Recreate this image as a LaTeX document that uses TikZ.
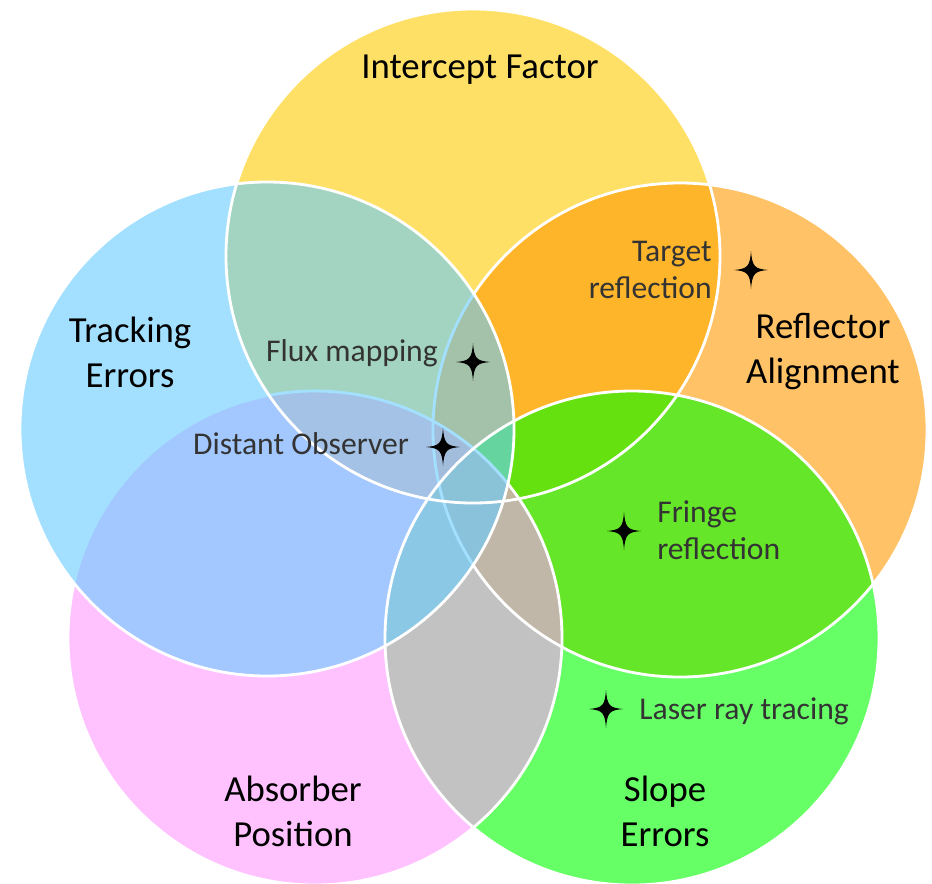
\documentclass[tikz,border=0pt]{standalone}
\usepackage{fontspec}
\setmainfont{Carlito}
\definecolor{cYel}{HTML}{FFCC00}
\definecolor{cOra}{HTML}{FF9900}
\definecolor{cGre}{HTML}{00FF00}
\definecolor{cPin}{HTML}{FF99FF}
\definecolor{cBlu}{HTML}{66CCFF}
\begin{document}
\begin{tikzpicture}[x=0.02cm,y=-0.02cm,
  setfill/.style={fill opacity=0.6},
  ring/.style={draw=white,line width=1.6pt},
  biglabel/.style={font=\fontsize{20.9}{25.6}\selectfont,text=black,align=center,inner sep=0pt},
  smalllabel/.style={font=\fontsize{18}{20.5}\selectfont,text=black!80,inner sep=0pt},
  fourstar/.pic={\fill[black] (0,-19) .. controls (1.2,-3.5) and (3.5,-1.2) .. (17,0) .. controls (3.5,1.2) and (1.2,3.5) .. (0,19) .. controls (-1.2,3.5) and (-3.5,1.2) .. (-17,0) .. controls (-3.5,-1.2) and (-1.2,-3.5) .. cycle;}
]
\useasboundingbox (0,0) rectangle (932,883);
\clip (0,0) rectangle (932,883);
\def\R{247}
\coordinate (cY) at (473,256);
\coordinate (cO) at (680,430);
\coordinate (cG) at (632,638);
\coordinate (cP) at (315,638);
\coordinate (cB) at (267,429);
% fills in stacking order
\fill[setfill,fill=cYel] (cY) circle[radius=\R];
\fill[setfill,fill=cOra] (cO) circle[radius=\R];
\fill[setfill,fill=cGre] (cG) circle[radius=\R];
\fill[setfill,fill=cPin] (cP) circle[radius=\R];
\draw[ring] (cO) circle[radius=\R];
\draw[ring] (cP) circle[radius=\R];
\fill[setfill,fill=cBlu] (cB) circle[radius=\R];
\draw[ring] (cB) circle[radius=\R];
\draw[ring] (cY) circle[radius=\R];
\draw[ring] (cG) circle[radius=\R];
% main labels (base anchor = baseline of last line)
\node[biglabel,anchor=base] (tInt) at (480,78) {Intercept Factor};
\node[biglabel,anchor=base] (tTrk) at (130,387) {Tracking\\Errors};
\node[biglabel,anchor=base] (tRef) at (823,383) {Reflector\\Alignment};
\node[biglabel,anchor=base] (tAbs) at (293,846) {Absorber\\Position};
\node[biglabel,anchor=base] (tSlo) at (665,846) {Slope\\Errors};
% method labels
\node[smalllabel,anchor=base] (mFlux) at (352,361) {Flux mapping};
\node[smalllabel,align=right,anchor=base east] (mTarget) at (712,298) {Target\\reflection};
\node[smalllabel,anchor=base] (mDist) at (301,454) {Distant Observer};
\node[smalllabel,align=left,anchor=base west] (mFringe) at (657,559) {Fringe\\reflection};
\node[smalllabel,anchor=base west] (mLaser) at (639,719) {Laser ray tracing};
% stars
\pic at (751,270) {fourstar};
\pic at (473,362) {fourstar};
\pic at (443,447) {fourstar};
\pic at (624,531) {fourstar};
\pic at (606,709) {fourstar};
\end{tikzpicture}
\end{document}
